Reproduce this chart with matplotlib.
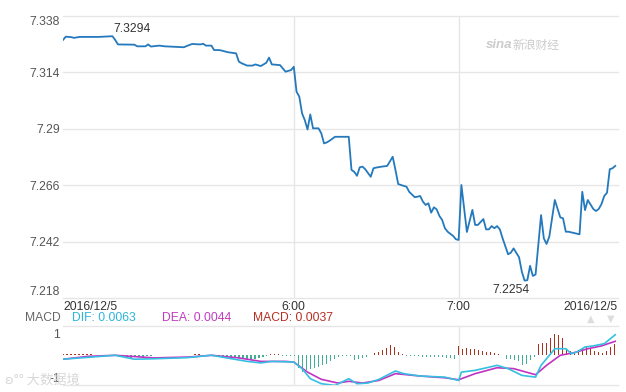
import numpy as np
import matplotlib
matplotlib.use("Agg")
import matplotlib.pyplot as plt

plt.rcParams['font.family'] = ['Liberation Sans', 'Noto Sans CJK SC', 'DejaVu Sans']

# ---------------- data ----------------
start_time = "04:36"            # minute 0 of the x axis
date_label = "2016/12/5"
hour_ticks = ["6:00", "7:00"]

price_min = [0, 1, 3, 4, 6, 13, 18, 19, 20, 26, 27, 30, 31, 32, 35, 37, 44, 45, 47, 50,
             51, 52, 54, 55, 57, 60, 63, 64, 65, 67, 69, 70, 72, 74, 75, 76, 79, 81, 83, 84,
             85, 86, 87, 88, 89, 90, 91, 93, 94, 95, 96, 97, 99, 104, 105, 106, 107, 108, 109, 110,
             112, 113, 114, 116, 118, 120, 121, 122, 124, 125, 126, 128, 129, 130, 131, 132, 133, 134, 135, 136,
             137, 138, 139, 140, 142, 143, 144, 145, 147, 149, 150, 151, 153, 154, 155, 156, 157, 158, 159, 160,
             162, 163, 164, 166, 167, 168, 169, 170, 171, 172, 174, 175, 176, 177, 179, 181, 182, 183, 184, 188,
             189, 190, 191, 193, 194, 195, 196, 197, 198, 199, 200, 201]
price_val = [7.3278, 7.3292, 7.3290, 7.3287, 7.3291, 7.3291, 7.3294, 7.3278, 7.3259, 7.3258,
             7.3251, 7.3251, 7.3259, 7.3250, 7.3254, 7.3251, 7.3247, 7.3252, 7.3261, 7.3259,
             7.3262, 7.3254, 7.3254, 7.3235, 7.3235, 7.3226, 7.3221, 7.3186, 7.3179, 7.3169,
             7.3169, 7.3174, 7.3167, 7.3181, 7.3203, 7.3174, 7.3171, 7.3143, 7.3150, 7.3164,
             7.3058, 7.3037, 7.2966, 7.2937, 7.2897, 7.2961, 7.2902, 7.2902, 7.2881, 7.2838,
             7.2842, 7.2849, 7.2866, 7.2866, 7.2725, 7.2717, 7.2700, 7.2736, 7.2739, 7.2728,
             7.2696, 7.2732, 7.2735, 7.2739, 7.2742, 7.2781, 7.2725, 7.2665, 7.2657, 7.2654,
             7.2632, 7.2609, 7.2611, 7.2614, 7.2590, 7.2576, 7.2583, 7.2543, 7.2566, 7.2557,
             7.2529, 7.2512, 7.2477, 7.2462, 7.2444, 7.2430, 7.2427, 7.2661, 7.2461, 7.2555,
             7.2491, 7.2491, 7.2516, 7.2472, 7.2472, 7.2486, 7.2477, 7.2486, 7.2472, 7.2434,
             7.2366, 7.2373, 7.2391, 7.2353, 7.2292, 7.2254, 7.2256, 7.2317, 7.2274, 7.2280,
             7.2533, 7.2434, 7.2410, 7.2441, 7.2597, 7.2523, 7.2519, 7.2462, 7.2462, 7.2451,
             7.2632, 7.2554, 7.2597, 7.2559, 7.2550, 7.2559, 7.2580, 7.2614, 7.2628, 7.2728,
             7.2732, 7.2742]

price_ticks = [7.218, 7.242, 7.266, 7.29, 7.314, 7.338]
price_tick_labels = ["7.218", "7.242", "7.266", "7.29", "7.314", "7.338"]

dif_min = [0, 19, 26, 33, 45, 54, 67, 72, 76, 84, 87, 90, 94, 99, 104, 107, 111, 115, 121, 124,
           130, 139, 144, 145, 150, 158, 162, 167, 172, 174, 179, 183, 185, 187, 190, 193, 197, 201]
dif_val = [-0.18, 0.0, -0.18, -0.16, -0.11, 0.0, -0.28, -0.35, -0.28, -0.31, -0.61, -1.07, -1.30, -1.38,
           -1.07, -1.30, -1.27, -1.10, -0.72, -0.84, -0.95, -1.00, -1.15, -0.77, -0.69, -0.46, -0.61,
           -0.92, -1.00, -0.46, 0.30, 0.30, 0.07, 0.15, 0.38, 0.43, 0.53, 0.94]

dea_min = [0, 9, 19, 33, 46, 54, 64, 72, 81, 84, 89, 94, 100, 104, 109, 115, 121, 130, 139, 144,
           150, 158, 164, 172, 176, 181, 186, 191, 196, 201]
dea_val = [-0.18, -0.05, 0.0, -0.12, -0.08, 0.0, -0.12, -0.28, -0.28, -0.31, -0.77, -1.10, -1.27, -1.19,
           -1.27, -1.15, -0.84, -0.95, -1.03, -1.12, -0.84, -0.57, -0.61, -0.89, -0.46, 0.0, 0.12,
           0.30, 0.43, 0.64]

hist_step = 1.4545   # minutes between histogram bars
hist_val = [0.04, 0.04, 0.04, 0.04, 0.04, 0.04, 0.04, 0.04, 0.03, 0.0,
            0.0, 0.0, 0.0, -0.03, -0.06, -0.09, -0.12, -0.12, -0.10, -0.08,
            -0.06, -0.04, -0.02, 0.0, 0.0, 0.0, 0.0, 0.0, 0.0, 0.0,
            0.0, 0.0, 0.02, 0.04, 0.04, 0.03, 0.0, 0.0, -0.03, -0.05,
            -0.06, -0.08, -0.10, -0.12, -0.14, -0.16, -0.18, -0.17, -0.15, -0.12,
            -0.08, -0.04, 0.05, 0.07, 0.04, -0.03, -0.04, -0.04, -0.04, -0.60,
            -0.75, -0.66, -0.61, -0.57, -0.53, -0.46, -0.39, -0.28, -0.16, -0.08,
            -0.03, -0.03, -0.05, -0.23, -0.18, -0.12, -0.08, 0.03, 0.10, 0.17,
            0.26, 0.34, 0.45, 0.38, 0.16, 0.04, -0.03, -0.05, -0.05, -0.05,
            -0.06, -0.06, -0.06, -0.07, -0.08, -0.10, -0.12, -0.14, -0.16, 0.41,
            0.30, 0.33, 0.28, 0.30, 0.23, 0.20, 0.15, 0.14, 0.12, 0.07,
            0.02, -0.16, -0.18, -0.23, -0.28, -0.46, -0.39, -0.23, -0.08, 0.53,
            0.58, 0.58, 0.79, 0.99, 0.94, 0.79, 0.23, 0.18, 0.15, 0.23,
            0.30, 0.38, 0.33, 0.18, 0.15, 0.12, 0.18, 0.38, 0.53]

dif_last, dea_last, macd_last = "0.0063", "0.0044", "0.0037"

# ---------------- figure ----------------
W, H = 626, 392
fig = plt.figure(figsize=(W / 100, H / 100), dpi=100)

def fx(px):
    return px / W

def fy(py):
    return 1 - py / H

x_max = 202
sh, sm = map(int, start_time.split(":"))
hour_pos = [int(t.split(":")[0]) * 60 + int(t.split(":")[1]) - (sh * 60 + sm) for t in hour_ticks]

grid_c = "#e6e6e6"
ax = fig.add_axes([fx(63), fy(298), fx(618 - 63), (298 - 16) / H])
ax.set_xlim(0, x_max)
ax.set_ylim(price_ticks[0], price_ticks[-1])
for s in ax.spines.values():
    s.set_visible(False)
for v in price_ticks:
    ax.axhline(v, color=grid_c, lw=1, clip_on=False, zorder=0)
for hp in hour_pos:
    ax.axvline(hp, color=grid_c, lw=1, zorder=0)
ax.plot(price_min, price_val, color="#2479bd", lw=1.3, zorder=3)
ax.set_xticks([])
ax.set_yticks(price_ticks)
ax.set_yticklabels(price_tick_labels)
ax.tick_params(axis='y', length=0, pad=2, labelsize=8.7, labelcolor="#555555")
ylabels = ax.get_yticklabels()
ylabels[0].set_va('bottom')
ylabels[-1].set_va('top')

imax = int(np.argmax(price_val))
imin = int(np.argmin(price_val))
ax.annotate(f"{price_val[imax]:.4f}", (price_min[imax], price_val[imax]),
            xytext=(1, 7), textcoords='offset pixels', ha='left', va='center',
            fontsize=8.7, color="#333333")
ax.annotate(f"{price_val[imin]:.4f}", (price_min[imin], price_val[imin]),
            xytext=(5, -9), textcoords='offset pixels', ha='right', va='center',
            fontsize=8.7, color="#333333")

# watermark sina
fig.text(fx(486), fy(45), "sina", fontsize=9.5, color="#cccccc", style='italic',
         fontweight='bold', ha='left', va='center')
fig.text(fx(513), fy(45), "新浪财经", fontsize=8.5, color="#cccccc", ha='left', va='center',
         family=['Noto Sans CJK SC', 'DejaVu Sans'])

# x labels
lab_y = fy(307)
fig.text(fx(63), lab_y, date_label, ha='left', va='center', fontsize=8.7, color="#333333")
fig.text(fx(618), lab_y, date_label, ha='right', va='center', fontsize=8.7, color="#333333")
for hp, t in zip(hour_pos, hour_ticks):
    xp = 63 + hp / x_max * (618 - 63)
    fig.text(fx(xp), lab_y, t, ha='center', va='center', fontsize=8.7, color="#333333")

# MACD header
hy = fy(318)
fig.text(fx(61), hy, "MACD", ha='right', va='center', fontsize=8.7, color="#666666")
fig.text(fx(72), hy, f"DIF: {dif_last}", ha='left', va='center', fontsize=8.7, color="#2bb5dc")
fig.text(fx(162), hy, f"DEA: {dea_last}", ha='left', va='center', fontsize=8.7, color="#c03cc0")
fig.text(fx(253), hy, f"MACD: {macd_last}", ha='left', va='center', fontsize=8.7, color="#b53024")
fig.text(fx(591), fy(319), "▲", ha='center', va='center', fontsize=7, color="#dddddd",
         family=['DejaVu Sans'])
fig.text(fx(611), fy(319), "▼", ha='center', va='center', fontsize=7, color="#dddddd",
         family=['DejaVu Sans'])

# MACD panel
ax2 = fig.add_axes([fx(63), fy(385), fx(618 - 63), (385 - 326) / H])
ax2.set_xlim(0, x_max)
ax2.set_ylim(-1.36, 1.34)
for s in ax2.spines.values():
    s.set_visible(False)
ax2.axhline(1.34, color=grid_c, lw=1, clip_on=False, zorder=0)
ax2.axhline(-1.36, color=grid_c, lw=1, clip_on=False, zorder=0)
for hp in hour_pos:
    ax2.axvline(hp, color=grid_c, lw=1, zorder=0)
hx = np.arange(len(hist_val)) * hist_step
hv = np.array(hist_val)
cols = np.where(hv >= 0, "#a8321c", "#3fae94")
ax2.bar(hx, hv, width=0.5, color=cols, zorder=2)
ax2.plot(dea_min, dea_val, color="#c233c2", lw=1.2, zorder=3)
ax2.plot(dif_min, dif_val, color="#35bfe3", lw=1.2, zorder=3)
ax2.set_xticks([])
ax2.set_yticks([1, -1])
ax2.set_yticklabels(["1", "-1"])
ax2.tick_params(axis='y', length=0, pad=2, labelsize=8.7, labelcolor="#555555")

# bottom-left watermark
fig.text(fx(5), fy(380), "ʚ°° 大数据境", ha='left', va='center', fontsize=9.5,
         color="#d4d4d4", alpha=0.9, family=['Noto Sans CJK SC', 'DejaVu Sans'], zorder=10)

fig.savefig("out.png", dpi=100)
